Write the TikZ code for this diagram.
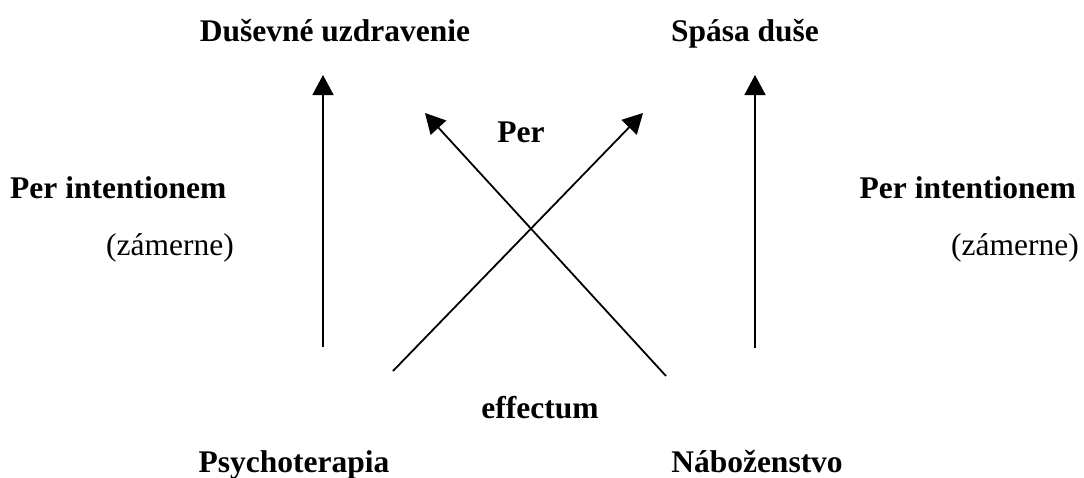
\documentclass[tikz,border=0pt]{standalone}
\usepackage{fontspec}
\setmainfont{Liberation Serif}
\usepackage{tikz}
\usetikzlibrary{arrows.meta, positioning}

\begin{document}
\begin{tikzpicture}[
    x=1pt, y=-1pt,
    boldtext/.style={
        font=\bfseries\fontsize{31.5}{36}\selectfont,
        inner sep=0,
        anchor=base
    },
    plaintext/.style={
        font=\fontsize{31.5}{36}\selectfont,
        inner sep=0,
        anchor=base
    },
    arrow/.style={
        -{Triangle[length=20pt, width=21pt]},
        line width=1.8pt
    }
]
\useasboundingbox (0,0) rectangle (1084,477);

% Goals (top)
\node[boldtext] (heal) at (335,41) {Duševné uzdravenie};
\node[boldtext] (salv) at (745,41) {Spása duše};

% Side texts
\node[boldtext, anchor=base west]  (intL) at (10,198)   {Per intentionem};
\node[plaintext, anchor=base west] (zamL) at (106,255)  {(zámerne)};
\node[boldtext, anchor=base east]  (intR) at (1076,198) {Per intentionem};
\node[plaintext, anchor=base east] (zamR) at (1079,255) {(zámerne)};

% Middle texts
\node[boldtext] (per) at (521,142) {Per};
\node[boldtext] (eff) at (540,418) {effectum};

% Sources (bottom)
\node[boldtext] (psy) at (294,472) {Psychoterapia};
\node[boldtext] (nab) at (757,472) {Náboženstvo};

% Arrow ends
\coordinate (psyB) at (323,347);
\coordinate (healT) at (323,75);
\coordinate (psyD) at (393,371);
\coordinate (salvX) at (643,113);
\coordinate (nabD) at (666,376);
\coordinate (healX) at (425,113);
\coordinate (nabB) at (755,348);
\coordinate (salvT) at (755,75);

% Arrows
\draw[arrow] (psyB) -- (healT);
\draw[arrow] (nabB) -- (salvT);

\draw[arrow] (psyD) -- (salvX);
\draw[arrow] (nabD) -- (healX);

\end{tikzpicture}
\end{document}
